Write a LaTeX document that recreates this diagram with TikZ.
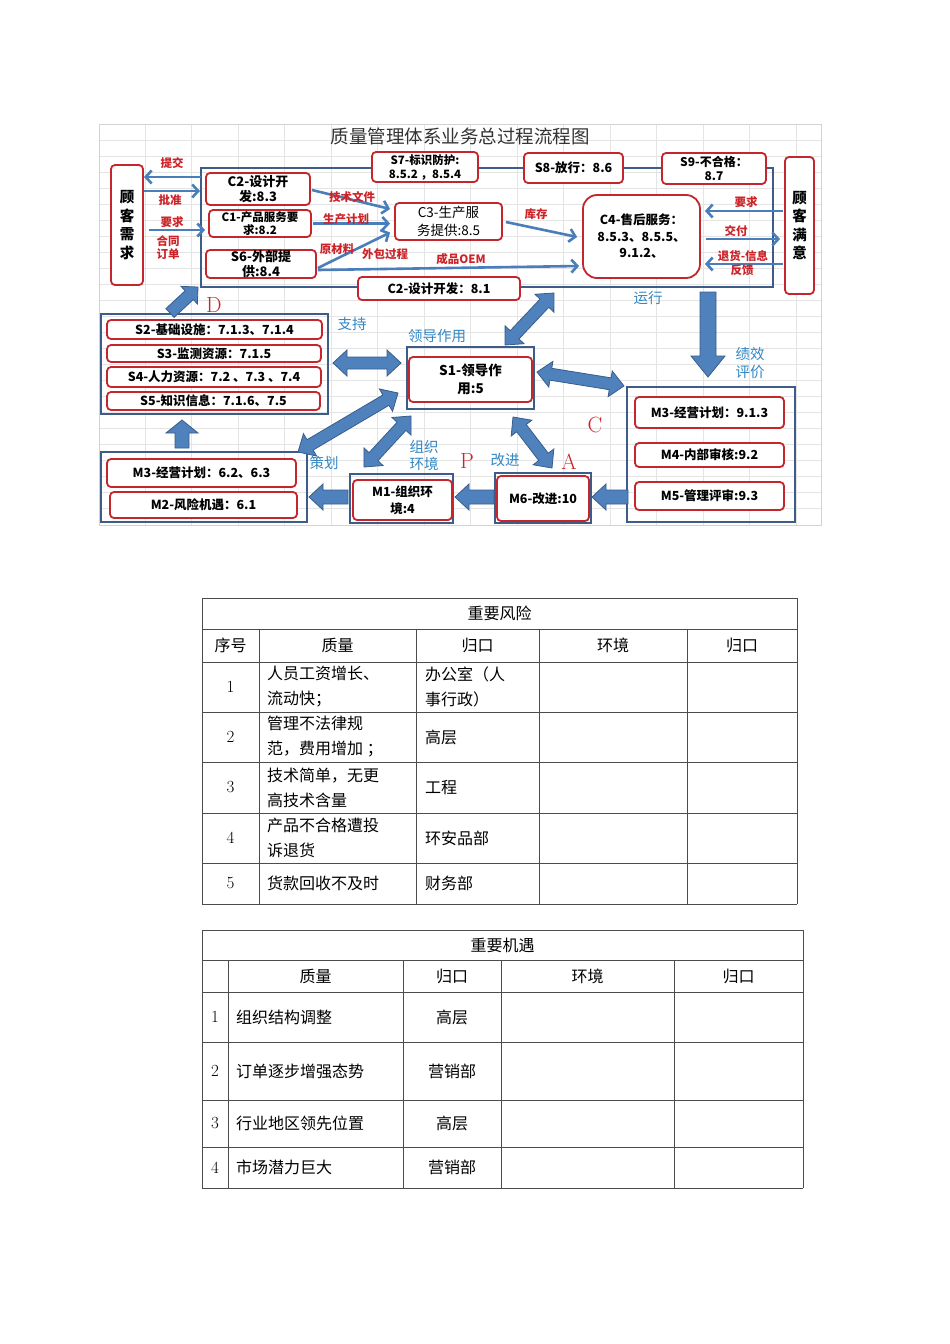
\documentclass[tikz,border=0pt]{standalone}
\usepackage{fontspec}
\newfontfamily\cjk{Noto Sans CJK SC}
\usetikzlibrary{arrows.meta, calc}

\definecolor{boxred}{RGB}{196,38,44}
\definecolor{frameblue}{RGB}{62,92,136}
\definecolor{linkblue}{RGB}{74,126,187}
\definecolor{blockfill}{RGB}{79,129,189}
\definecolor{blockedge}{RGB}{56,93,138}
\definecolor{notered}{RGB}{205,35,40}
\definecolor{noteblue}{RGB}{50,135,195}
\definecolor{gridgray}{RGB}{228,228,228}

\newcommand\fsz[2]{\fontsize{#1}{#2}\selectfont}

% block arrows: tail/tip, half shaft, half head, head length
\newcommand\onewayarrow[5]{%
  \filldraw[blockarrow] ($(#1)!#3!90:(#2)$)
    -- ($($(#2)!#5!(#1)$)!#3!90:(#2)$) -- ($($(#2)!#5!(#1)$)!#4!90:(#2)$)
    -- (#2)
    -- ($($(#2)!#5!(#1)$)!#4!-90:(#2)$) -- ($($(#2)!#5!(#1)$)!#3!-90:(#2)$)
    -- ($(#1)!#3!-90:(#2)$) -- cycle;}
\newcommand\twowayarrow[5]{%
  \filldraw[blockarrow] (#1)
    -- ($($(#1)!#5!(#2)$)!#4!90:(#2)$) -- ($($(#1)!#5!(#2)$)!#3!90:(#2)$)
    -- ($($(#2)!#5!(#1)$)!#3!90:(#2)$) -- ($($(#2)!#5!(#1)$)!#4!90:(#2)$)
    -- (#2)
    -- ($($(#2)!#5!(#1)$)!#4!-90:(#2)$) -- ($($(#2)!#5!(#1)$)!#3!-90:(#2)$)
    -- ($($(#1)!#5!(#2)$)!#3!-90:(#2)$) -- ($($(#1)!#5!(#2)$)!#4!-90:(#2)$)
    -- cycle;}

\begin{document}
\begin{tikzpicture}[x=1pt, y=-1pt,
  redbox/.style={draw=boxred, line width=1.8pt, rounded corners=4pt, fill=white,
                 align=center, inner sep=0pt, font=\cjk\bfseries\fsz{12.5}{15}},
  groupframe/.style={draw=frameblue, line width=1.5pt},
  flow/.style={draw=linkblue, line width=2.6pt, -{Straight Barb[length=6pt, width=13pt]}},
  flownote/.style={text=notered, font=\cjk\bfseries\fsz{11.5}{13}, inner sep=0pt},
  stagenote/.style={text=noteblue, font=\cjk\fsz{14.5}{17}, inner sep=0pt},
  pdca/.style={text=notered, font=\fsz{22}{22}, inner sep=0pt},
  blockarrow/.style={fill=blockfill, draw=blockedge, line width=0.8pt},
  tabline/.style={draw=black!70, line width=0.9pt},
  tabhead/.style={font=\cjk\fsz{16}{16}, inner sep=0pt},
  tabcell/.style={font=\cjk\fsz{16}{25}, align=left, inner sep=0pt, anchor=west},
  tabnum/.style={font=\fsz{17}{17}, inner sep=0pt}]

  \useasboundingbox (0,0) rectangle (950,1344);
  \fill[white] (0,0) rectangle (950,1344);

  % Sheet background
  \draw[gray!35, line width=0.8pt] (99,124) rectangle (821,525);
  \foreach \y in {140,156,...,516}
    \draw[gridgray, line width=0.5pt] (99.5,\y) -- (820.5,\y);
  \foreach \x in {145,191.5,...,800}
    \draw[gridgray, line width=0.5pt] (\x,124.5) -- (\x,524.5);
  \node[font=\cjk\fsz{18.5}{18.5}, text=black!80] (title) at (460,136) {质量管理体系业务总过程流程图};

  % Frames
  \draw[groupframe] (201,168) rectangle (773,287);
  \draw[groupframe] (101,314) rectangle (328,414);
  \draw[groupframe] (407,347) rectangle (534,409);
  \draw[groupframe] (627,387) rectangle (795,522);
  \draw[groupframe] (101,452) rectangle (307,522);
  \draw[groupframe] (350,474) rectangle (453,523);
  \draw[groupframe] (495,473) rectangle (591,523);

  % Customers
  \node[redbox, minimum width=32pt, minimum height=120pt, font=\cjk\bfseries\fsz{14.5}{18.5}]
    (needs) at (127,225) {顾\\客\\需\\求};
  \node[redbox, minimum width=29pt, minimum height=137pt, font=\cjk\bfseries\fsz{14.5}{18.5}]
    (satisfied) at (799.5,225.5) {顾\\客\\满\\意};

  % Realisation boxes
  \node[redbox, minimum width=106pt, minimum height=30pt, font=\cjk\bfseries\fsz{11.5}{14}] (s7) at (425,167) {S7-标识防护:\\8.5.2 ，8.5.4};
  \node[redbox, minimum width=99pt, minimum height=30pt] (s8) at (573.5,168) {S8-放行：8.6};
  \node[redbox, minimum width=104pt, minimum height=31pt, font=\cjk\bfseries\fsz{12}{14.5}] (s9) at (714,168.5) {S9-不合格：\\8.7};
  \node[redbox, minimum width=104pt, minimum height=32pt, font=\cjk\bfseries\fsz{13}{15.5}] (c2a) at (258,189) {C2-设计开\\发:8.3};
  \node[redbox, minimum width=102pt, minimum height=27pt, font=\cjk\bfseries\fsz{11.5}{13}] (c1) at (260,223.5) {C1-产品服务要\\求:8.2};
  \node[redbox, minimum width=110pt, minimum height=28pt, font=\cjk\bfseries\fsz{13}{14.5}] (s6) at (261,264) {S6-外部提\\供:8.4};
  \node[redbox, minimum width=107pt, minimum height=37pt, font=\cjk\fsz{13.5}{17.5}] (c3) at (448.5,221.5) {C3-生产服\\务提供:8.5};
  \node[redbox, minimum width=117pt, minimum height=83pt, rounded corners=14pt, font=\cjk\bfseries\fsz{12.5}{16.5}]
    (c4) at (641.5,236.5) {C4-售后服务：\\8.5.3、8.5.5、\\9.1.2、};
  \node[redbox, minimum width=162pt, minimum height=23pt] (c2b) at (439,288.5) {C2-设计开发：8.1};

  % Support boxes
  \node[redbox, minimum width=215pt, minimum height=19pt] (s2) at (214.5,329.5) {S2-基础设施：7.1.3、7.1.4};
  \node[redbox, minimum width=214pt, minimum height=17pt] (s3) at (214,353.5) {S3-监测资源：7.1.5};
  \node[redbox, minimum width=214pt, minimum height=20pt] (s4) at (214,377) {S4-人力资源：7.2 、7.3 、7.4};
  \node[redbox, minimum width=213pt, minimum height=18pt] (s5) at (213.5,401) {S5-知识信息：7.1.6、7.5};
  \node[redbox, minimum width=123pt, minimum height=45pt, font=\cjk\bfseries\fsz{13.5}{18}] (s1) at (470.5,379.5) {S1-领导作\\用:5};

  % Management boxes
  \node[redbox, minimum width=149pt, minimum height=31pt] (m3r) at (709.5,412.5) {M3-经营计划：9.1.3};
  \node[redbox, minimum width=149pt, minimum height=24pt] (m4) at (709.5,455) {M4-内部审核:9.2};
  \node[redbox, minimum width=149pt, minimum height=28pt] (m5) at (709.5,496) {M5-管理评审:9.3};
  \node[redbox, minimum width=189pt, minimum height=28pt] (m3l) at (201.5,473) {M3-经营计划：6.2、6.3};
  \node[redbox, minimum width=187pt, minimum height=26pt] (m2) at (203.5,505) {M2-风险机遇：6.1};
  \node[redbox, minimum width=99pt, minimum height=40pt, font=\cjk\bfseries\fsz{12.5}{17}] (m1) at (402.5,500) {M1-组织环\\境:4};
  \node[redbox, minimum width=92pt, minimum height=45pt] (m6) at (543,498.5) {M6-改进:10};

  % Thin flows
  \coordinate (frameA) at (201,177);
  \coordinate (frameB) at (200,191);
  \coordinate (orderA) at (149,230);
  \draw[flow] (frameA) -- (needs.east |- frameA);
  \draw[flow] (needs.east |- frameB) -- (frameB);
  \draw[flow] (orderA) -- ($(c1.west |- orderA)+(-3,0)$);
  \draw[flow] ($(c2a.east)+(1,1)$) -- ($(c3.west)+(-4,-12.5)$);
  \draw[flow] ($(c1.east)+(1,0)$) -- ($(c3.west)+(-4,2)$);
  \draw[flow] ($(s6.east)+(1,4)$) -- ($(c3.west)+(-4,11)$);
  \draw[flow] ($(s6.east)+(1,6)$) -- ($(c4.west)+(-3,29.5)$);
  \draw[flow] ($(c3.east)+(3,0.5)$) -- ($(c4.west)+(-5,0.5)$);
  \draw[flow] ($(satisfied.west)+(-1,-14.5)$) -- ($(c4.east)+(4,-25.5)$);
  \draw[flow] ($(c4.east)+(5,2.5)$) -- ($(satisfied.west)+(-4,13.5)$);
  \draw[flow] ($(satisfied.west)+(-1,38.5)$) -- ($(c4.east)+(4,27.5)$);

  % Flow labels
  \node[flownote] (nSubmit) at (172,163) {提交};
  \node[flownote] (nApprove) at (170,200) {批准};
  \node[flownote] (nReqL) at (172,222) {要求};
  \node[flownote] (nContract) at (168,241) {合同};
  \node[flownote] (nOrder) at (168,254) {订单};
  \node[flownote] (nTech) at (352,197) {技术文件};
  \node[flownote] (nPlan) at (346,219) {生产计划};
  \node[flownote] (nMaterial) at (337,249) {原材料};
  \node[flownote] (nOutsource) at (385,254) {外包过程};
  \node[flownote] (nOem) at (461,259) {成品OEM};
  \node[flownote] (nStock) at (536,214) {库存};
  \node[flownote] (nReqR) at (746,202) {要求};
  \node[flownote] (nDeliver) at (736,231) {交付};
  \node[flownote] (nReturn) at (743,256) {退货-信息};
  \node[flownote] (nFeedback) at (742,270) {反馈};

  % Block arrows
  \coordinate (dTail) at (170,313);  \coordinate (dTip) at (198,287);
  \coordinate (runTail) at (708,292); \coordinate (runTip) at (708,377);
  \coordinate (upTail) at (182,448);  \coordinate (upTip) at (182,420);
  \coordinate (m1Tail) at (348,497);  \coordinate (m1Tip) at (309,497);
  \coordinate (m6Tail) at (494,497);  \coordinate (m6Tip) at (455,497);
  \coordinate (mrTail) at (628,497);  \coordinate (mrTip) at (592,497);
  \onewayarrow{dTail}{dTip}{6pt}{12pt}{12pt}
  \onewayarrow{runTail}{runTip}{8pt}{17pt}{21pt}
  \onewayarrow{upTail}{upTip}{7pt}{16pt}{13pt}
  \onewayarrow{m1Tail}{m1Tip}{7pt}{13pt}{14pt}
  \onewayarrow{m6Tail}{m6Tip}{7pt}{13pt}{14pt}
  \onewayarrow{mrTail}{mrTip}{7pt}{13pt}{14pt}

  \coordinate (leadA) at (505,345); \coordinate (leadB) at (554,293);
  \coordinate (supA) at (333,363);  \coordinate (supB) at (401,363);
  \coordinate (chkA) at (537,372);  \coordinate (chkB) at (624,386);
  \coordinate (plnA) at (398,393);  \coordinate (plnB) at (298,452);
  \coordinate (orgA) at (411,416);  \coordinate (orgB) at (364,467);
  \coordinate (impA) at (513,417);  \coordinate (impB) at (552,468);
  \foreach \a/\b in {leadA/leadB, supA/supB, chkA/chkB, plnA/plnB, orgA/orgB, impA/impB}
    {\twowayarrow{\a}{\b}{6pt}{13pt}{14pt}}

  % Stage labels
  \node[stagenote] (nRun) at (648,298) {运行};
  \node[stagenote] (nPerf) at (750,354) {绩效};
  \node[stagenote] (nEval) at (750,372) {评价};
  \node[stagenote] (nSupport) at (352,324) {支持};
  \node[stagenote] (nLead) at (437,336) {领导作用};
  \node[stagenote] (nPlanning) at (324,463) {策划};
  \node[stagenote] (nOrg) at (424,447) {组织};
  \node[stagenote] (nEnv) at (424,464) {环境};
  \node[stagenote] (nImprove) at (505,460) {改进};
  \node[pdca] (pD) at (214,305) {D};
  \node[pdca] (pP) at (467,461) {P};
  \node[pdca] (pA) at (569,462) {A};
  \node[pdca] (pC) at (595,425) {C};

  % Risk table
  \foreach \y in {598,629,662,712,762,813,863,904}
    \draw[tabline] (202,\y) -- (797,\y);
  \foreach \x in {202,797}
    \draw[tabline] (\x,598) -- (\x,904);
  \foreach \x in {259,416,539,687}
    \draw[tabline] (\x,629) -- (\x,904);
  \node[tabhead] (riskTitle) at (499.5,613) {重要风险};
  \foreach \x/\t [count=\i] in {230.5/序号, 337.5/质量, 477.5/归口, 613/环境, 742/归口}
    \node[tabhead] (riskHead\i) at (\x,645) {\t};
  \foreach \y/\n/\q/\d [count=\i] in {
      687/1/{人员工资增长、\\流动快；}/{办公室（人\\事行政）},
      737/2/{管理不法律规\\范，费用增加 ；}/高层,
      787.5/3/{技术简单，无更\\高技术含量}/工程,
      838/4/{产品不合格遭投\\诉退货}/环安品部,
      883.5/5/货款回收不及时/财务部}{
    \node[tabnum] (riskNo\i) at (230.5,\y) {\n};
    \node[tabcell] (riskQ\i) at (267,\y) {\q};
    \node[tabcell] (riskD\i) at (425,\y) {\d};
  }

  % Opportunity table
  \foreach \y in {930,960,992,1042,1100,1147,1188}
    \draw[tabline] (202,\y) -- (803,\y);
  \foreach \x in {202,803}
    \draw[tabline] (\x,930) -- (\x,1188);
  \foreach \x in {228,403,501,674}
    \draw[tabline] (\x,960) -- (\x,1188);
  \node[tabhead] (oppTitle) at (502.5,945) {重要机遇};
  \foreach \x/\t [count=\i] in {315.5/质量, 452/归口, 587.5/环境, 738.5/归口}
    \node[tabhead] (oppHead\i) at (\x,976) {\t};
  \foreach \y/\n/\q/\d [count=\i] in {
      1017/1/组织结构调整/高层,
      1071/2/订单逐步增强态势/营销部,
      1123.5/3/行业地区领先位置/高层,
      1167.5/4/市场潜力巨大/营销部}{
    \node[tabnum] (oppNo\i) at (215,\y) {\n};
    \node[tabcell] (oppQ\i) at (236,\y) {\q};
    \node[tabhead] (oppD\i) at (452,\y) {\d};
  }
\end{tikzpicture}
\end{document}
